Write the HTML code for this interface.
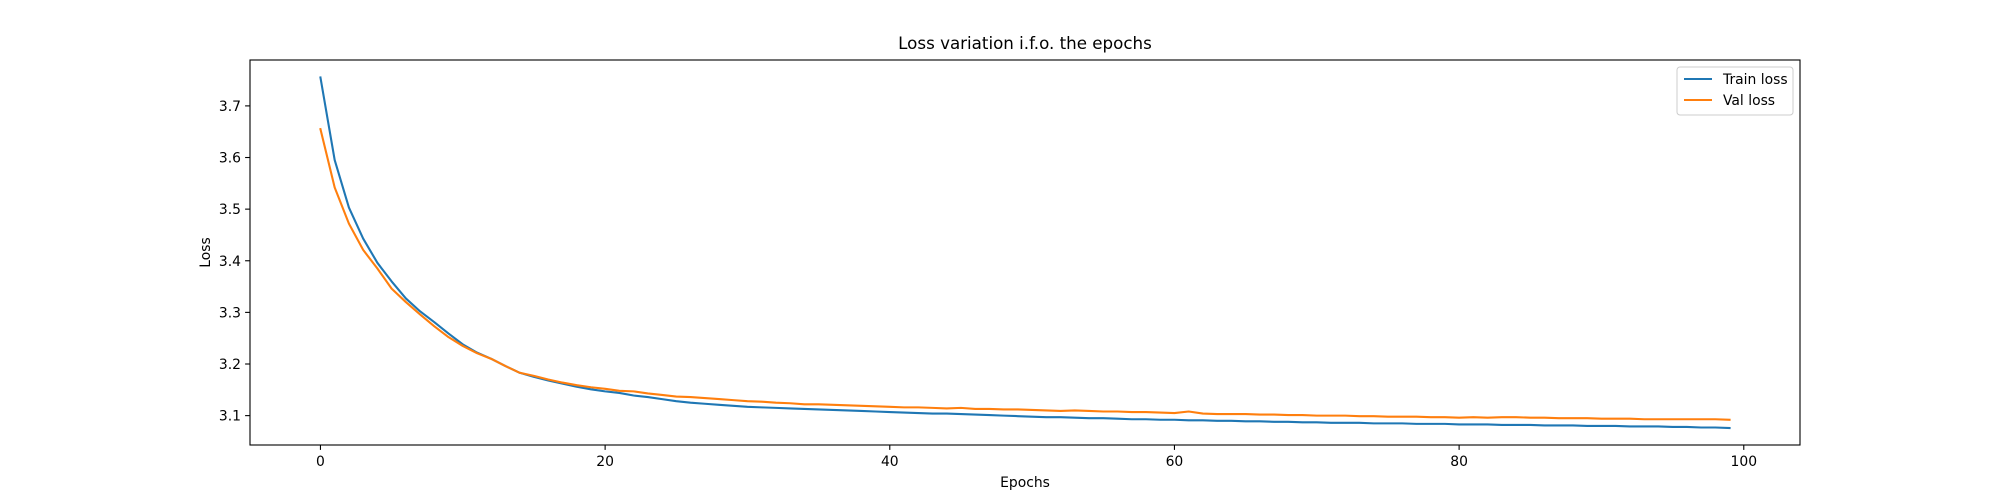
<!DOCTYPE html>
<html><head><meta charset="utf-8"><style>
html,body{margin:0;padding:0;background:#fff;}
svg{display:block;font-family:"DejaVu Sans","Liberation Sans",sans-serif;}
</style></head><body>
<svg id="chart" width="2000" height="500"></svg>
<script>
const epochs = Array.from({length:100},(_, i)=>i);
const trainLoss = [3.755,3.595,3.503,3.443,3.396,3.360,3.327,3.302,3.281,3.259,3.238,3.222,3.210,3.196,3.183,3.175,3.168,3.162,3.156,3.151,
3.147,3.144,3.139,3.136,3.132,3.128,3.125,3.123,3.121,3.119,3.117,3.116,3.115,3.114,3.113,3.112,3.111,3.110,3.109,3.108,
3.107,3.106,3.105,3.104,3.104,3.103,3.102,3.101,3.100,3.099,3.098,3.097,3.097,3.096,3.095,3.095,3.094,3.093,3.093,3.092,
3.092,3.091,3.091,3.090,3.090,3.089,3.089,3.088,3.088,3.087,3.087,3.086,3.086,3.086,3.085,3.085,3.085,3.084,3.084,3.084,
3.083,3.083,3.083,3.082,3.082,3.082,3.081,3.081,3.081,3.080,3.080,3.080,3.079,3.079,3.079,3.078,3.078,3.077,3.077,3.076];
const valLoss = [3.655,3.542,3.472,3.421,3.385,3.346,3.320,3.296,3.273,3.252,3.235,3.221,3.210,3.196,3.183,3.177,3.170,3.164,3.159,3.155,
3.152,3.148,3.147,3.143,3.140,3.137,3.136,3.134,3.132,3.130,3.128,3.127,3.125,3.124,3.122,3.122,3.121,3.120,3.119,3.118,
3.117,3.116,3.116,3.115,3.114,3.115,3.113,3.113,3.112,3.112,3.111,3.110,3.109,3.110,3.109,3.108,3.108,3.107,3.107,3.106,
3.105,3.108,3.104,3.103,3.103,3.103,3.102,3.102,3.101,3.101,3.100,3.100,3.100,3.099,3.099,3.098,3.098,3.098,3.097,3.097,
3.096,3.097,3.096,3.097,3.097,3.096,3.096,3.095,3.095,3.095,3.094,3.094,3.094,3.093,3.093,3.093,3.093,3.093,3.093,3.092];
const xTicks = [0,20,40,60,80,100];
const yTicks = [3.1,3.2,3.3,3.4,3.5,3.6,3.7];

const L=250,R=1800,T=60,B=445;
const xMin=-4.95,xMax=103.95,yMin=3.0431,yMax=3.7889;
const xs=v=>L+(v-xMin)/(xMax-xMin)*(R-L);
const ys=v=>B-(v-yMin)/(yMax-yMin)*(B-T);
const svg=document.getElementById('chart');
const NS='http://www.w3.org/2000/svg';
function mk(tag,attrs,parent){const e=document.createElementNS(NS,tag);for(const k in attrs)e.setAttribute(k,attrs[k]);(parent||svg).appendChild(e);return e;}

xTicks.forEach(t=>{
  const g=mk('g',{});
  
  
  mk('line',{x1:xs(t),x2:xs(t),y1:B,y2:B+4.9,stroke:'#000','stroke-width':1.1},g);
  const tx=mk('text',{x:xs(t),y:B+21,'text-anchor':'middle','font-size':13.9,fill:'#000'},g);tx.textContent=t;
});
yTicks.forEach(t=>{
  const g=mk('g',{});
  
  
  mk('line',{x1:L-4.9,x2:L,y1:ys(t),y2:ys(t),stroke:'#000','stroke-width':1.1},g);
  const tx=mk('text',{x:L-9,y:ys(t)+5,'text-anchor':'end','font-size':13.9,fill:'#000'},g);tx.textContent=t.toFixed(1);
});
function series(arr,color,name){
  const p=mk('polyline',{points:arr.map((v,i)=>xs(epochs[i])+','+ys(v)).join(' '),fill:'none',stroke:color,'stroke-width':2.1,'stroke-linejoin':'round','stroke-linecap':'square'});
  
  
}
series(trainLoss,'#1f77b4','train-loss-line');
series(valLoss,'#ff7f0e','val-loss-line');

const frame=mk('rect',{x:L,y:T,width:R-L,height:B-T,fill:'none',stroke:'#000','stroke-width':1.1});



const title=mk('text',{x:(L+R)/2,y:T-11,'text-anchor':'middle','font-size':16.7,fill:'#000'});
title.textContent='Loss variation i.f.o. the epochs';


const xl=mk('text',{x:(L+R)/2,y:B+42,'text-anchor':'middle','font-size':13.9,fill:'#000'});
xl.textContent='Epochs';


const yl=mk('text',{x:0,y:0,'text-anchor':'middle','font-size':13.9,fill:'#000',transform:'translate(210,'+((T+B)/2)+') rotate(-90)'});
yl.textContent='Loss';



const lg=mk('g',{});


mk('rect',{x:1677,y:67,width:116,height:48,rx:3,fill:'#fff','fill-opacity':0.8,stroke:'#ccc','stroke-width':1},lg);
[['Train loss','#1f77b4'],['Val loss','#ff7f0e']].forEach((e,i)=>{
  const g=mk('g',{},lg);
  
  
  const y=79+i*21;
  mk('line',{x1:1684,x2:1712,y1:y,y2:y,stroke:e[1],'stroke-width':2.1},g);
  const t=mk('text',{x:1723,y:y+5,'font-size':13.9,fill:'#000'},g);t.textContent=e[0];
});
</script>
</body></html>
